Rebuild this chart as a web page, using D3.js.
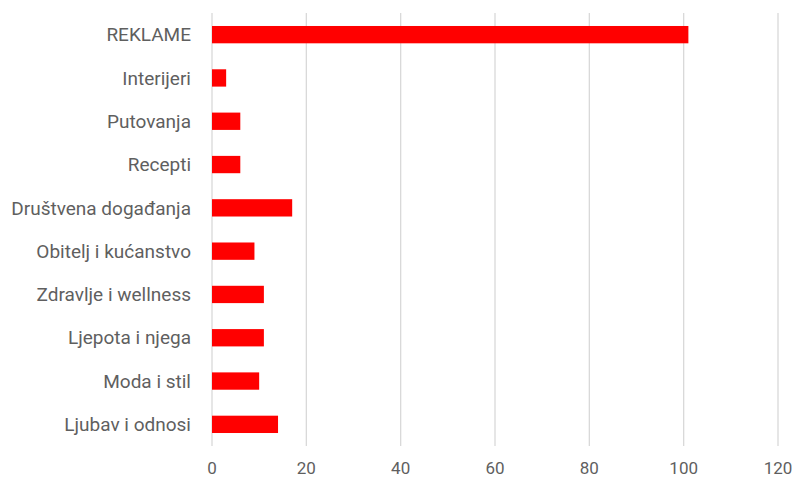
<!DOCTYPE html>
<html>
<head>
<meta charset="utf-8">
<script src="https://cdn.jsdelivr.net/npm/d3@7"></script>
<style>
  body { margin: 0; background: #fff; }
  text { font-family: Roboto, sans-serif; fill: #5f5f5f; }
</style>
</head>
<body>
<script>
var categories = ['REKLAME', 'Interijeri', 'Putovanja', 'Recepti', 'Društvena događanja',
  'Obitelj i kućanstvo', 'Zdravlje i wellness', 'Ljepota i njega', 'Moda i stil', 'Ljubav i odnosi'];
var values = [101, 3, 6, 6, 17, 9, 11, 11, 10, 14];
var xTicks = [0, 20, 40, 60, 80, 100, 120];

var width = 793, height = 478;

var svg = d3.select('body').append('svg')
  .attr('width', width)
  .attr('height', height);

var x = d3.scaleLinear().domain([0, 120]).range([212, 778]);
var y = d3.scaleBand().domain(categories).range([13, 446]).paddingInner(0.6).paddingOuter(0.3);

// grid
svg.selectAll('line.grid')
  .data(xTicks)
  .enter()
  .append('line')
    .attr('class', 'grid')
    .attr('x1', d => x(d)).attr('x2', d => x(d))
    .attr('y1', 13).attr('y2', 446)
    .attr('stroke', '#d9d9d9')
    .attr('stroke-width', 1.3);

svg.selectAll('rect')
  .data(values)
  .enter()
  .append('rect')
    .attr('x', x(0))
    .attr('y', (d, i) => y(categories[i]))
    .attr('width', d => x(d) - x(0))
    .attr('height', y.bandwidth())
    .attr('fill', '#ff0000');

// category labels
svg.selectAll('text.cat')
  .data(categories)
  .enter()
  .append('text')
    .attr('class', 'cat')
    .attr('x', 191)
    .attr('y', d => y(d) + y.bandwidth() / 2)
    .attr('dy', '0.35em')
    .attr('text-anchor', 'end')
    .style('font-size', '19px')
    .text(d => d);

svg.selectAll('text.tick')
  .data(xTicks)
  .enter()
  .append('text')
    .attr('class', 'tick')
    .attr('x', d => x(d))
    .attr('y', 468)
    .attr('dy', '0.35em')
    .attr('text-anchor', 'middle')
    .style('font-size', '17px')
    .text(d => d);
</script>
</body>
</html>
